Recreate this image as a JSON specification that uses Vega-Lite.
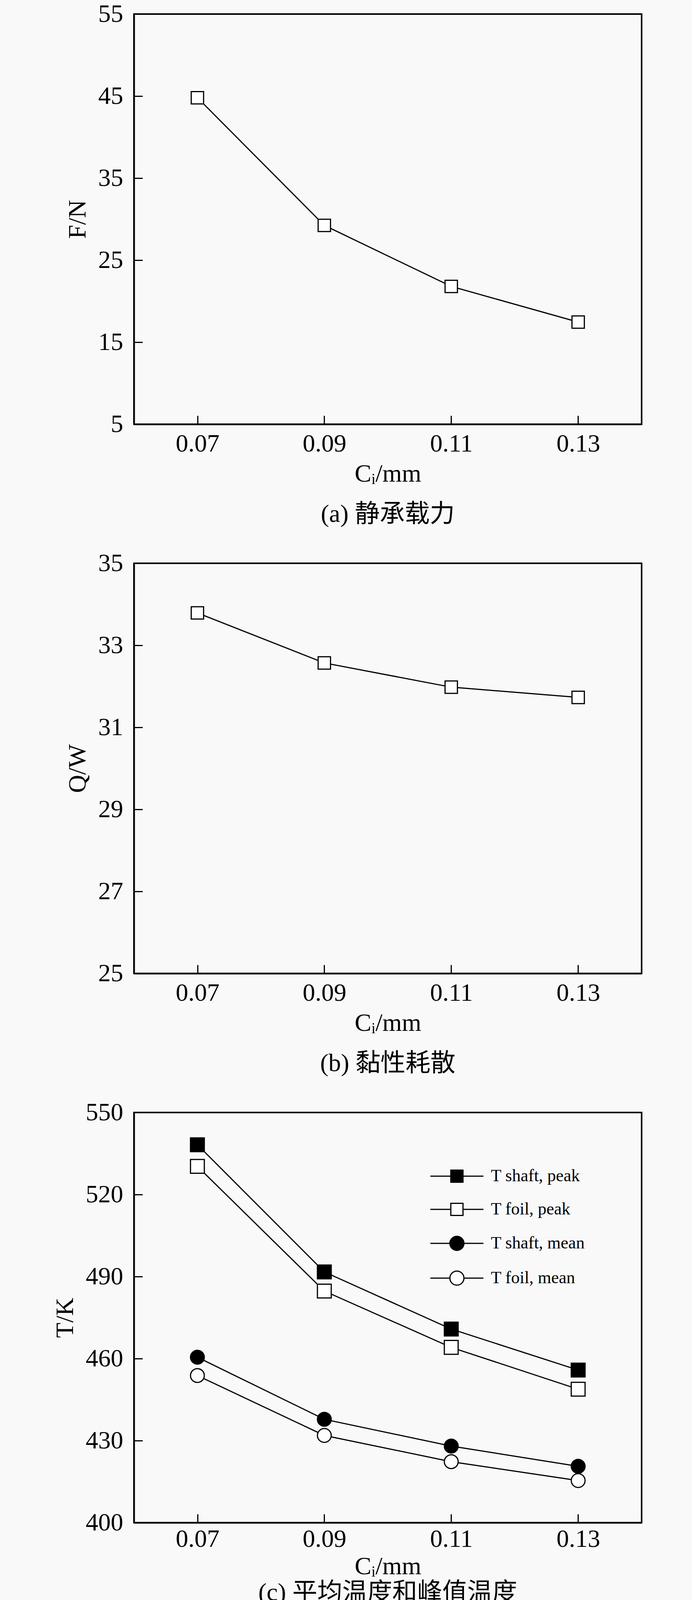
{
  "$schema": "https://vega.github.io/schema/vega-lite/v6.json",
  "background": "#f9f9f9",
  "padding": {"left": 133, "top": 2, "right": 129, "bottom": 30},
  "autosize": {"type": "pad"},
  "config": {
    "font": "Liberation Serif, Noto Sans CJK SC",
    "view": {"stroke": "black", "strokeWidth": 4},
    "axis": {
      "grid": false,
      "domainColor": "black",
      "domainWidth": 4,
      "tickColor": "black",
      "tickWidth": 3,
      "tickSize": -22,
      "labelFont": "Liberation Serif",
      "labelFontSize": 64,
      "labelColor": "black",
      "titleFont": "Liberation Serif",
      "titleFontSize": 64,
      "titleFontWeight": "normal",
      "titleColor": "black"
    },
    "axisX": {"labelPadding": 40, "titlePadding": 13},
    "axisY": {"labelPadding": 50, "titlePadding": 20},
    "title": {
      "font": "Liberation Serif, Noto Sans CJK SC",
      "fontSize": 64,
      "fontWeight": "normal",
      "color": "black",
      "offset": 40,
      "frame": "group",
      "anchor": "middle"
    }
  },
  "spacing": 356,
  "bounds": "flush",
  "vconcat": [
    {
      "width": 1300,
      "height": 1050,
      "title": {"text": "(a) 静承载力", "orient": "bottom"},
      "data": {
        "values": [
          {"c": 0.07, "v": 44.8},
          {"c": 0.09, "v": 29.24},
          {"c": 0.11, "v": 21.8},
          {"c": 0.13, "v": 17.45}
        ]
      },
      "encoding": {
        "x": {
          "field": "c",
          "type": "quantitative",
          "scale": {"domain": [0.06, 0.14], "nice": false},
          "axis": {"values": [0.07, 0.09, 0.11, 0.13], "format": ".2f", "title": "Cᵢ/mm"}
        },
        "y": {
          "field": "v",
          "type": "quantitative",
          "scale": {"domain": [5, 55], "nice": false, "zero": false},
          "axis": {"values": [5, 15, 25, 35, 45, 55], "title": "F/N"}
        }
      },
      "layer": [
        {"mark": {"type": "line", "color": "black", "strokeWidth": 3}, "encoding": {}},
        {"mark": {"type": "point", "shape": "square", "filled": true, "fill": "white", "stroke": "black", "strokeWidth": 3, "size": 1000, "opacity": 1}}
      ]
    },
    {
      "width": 1300,
      "height": 1050,
      "title": {"text": "(b) 黏性耗散", "orient": "bottom"},
      "data": {
        "values": [
          {"c": 0.07, "v": 33.79},
          {"c": 0.09, "v": 32.57},
          {"c": 0.11, "v": 31.98},
          {"c": 0.13, "v": 31.73}
        ]
      },
      "encoding": {
        "x": {
          "field": "c",
          "type": "quantitative",
          "scale": {"domain": [0.06, 0.14], "nice": false},
          "axis": {"values": [0.07, 0.09, 0.11, 0.13], "format": ".2f", "title": "Cᵢ/mm"}
        },
        "y": {
          "field": "v",
          "type": "quantitative",
          "scale": {"domain": [25, 35], "nice": false, "zero": false},
          "axis": {"values": [25, 27, 29, 31, 33, 35], "title": "Q/W"}
        }
      },
      "layer": [
        {"mark": {"type": "line", "color": "black", "strokeWidth": 3}, "encoding": {}},
        {"mark": {"type": "point", "shape": "square", "filled": true, "fill": "white", "stroke": "black", "strokeWidth": 3, "size": 1000, "opacity": 1}}
      ]
    },
    {
      "width": 1300,
      "height": 1050,
      "title": {"text": "(c) 平均温度和峰值温度", "orient": "bottom", "offset": 4},
      "data": {
        "values": [
          {"c": 0.07, "s": "T shaft, peak", "v": 538.2},
          {"c": 0.09, "s": "T shaft, peak", "v": 491.7},
          {"c": 0.11, "s": "T shaft, peak", "v": 470.8},
          {"c": 0.13, "s": "T shaft, peak", "v": 455.8},
          {"c": 0.07, "s": "T foil, peak", "v": 530.3},
          {"c": 0.09, "s": "T foil, peak", "v": 484.7},
          {"c": 0.11, "s": "T foil, peak", "v": 464.1},
          {"c": 0.13, "s": "T foil, peak", "v": 448.8},
          {"c": 0.07, "s": "T shaft, mean", "v": 460.5},
          {"c": 0.09, "s": "T shaft, mean", "v": 437.8},
          {"c": 0.11, "s": "T shaft, mean", "v": 428.0},
          {"c": 0.13, "s": "T shaft, mean", "v": 420.6},
          {"c": 0.07, "s": "T foil, mean", "v": 453.8},
          {"c": 0.09, "s": "T foil, mean", "v": 431.9},
          {"c": 0.11, "s": "T foil, mean", "v": 422.3},
          {"c": 0.13, "s": "T foil, mean", "v": 415.4}
        ]
      },
      "encoding": {
        "x": {
          "field": "c",
          "type": "quantitative",
          "scale": {"domain": [0.06, 0.14], "nice": false},
          "axis": {"values": [0.07, 0.09, 0.11, 0.13], "format": ".2f", "title": "Cᵢ/mm", "labelPadding": 32, "titlePadding": 6}
        },
        "y": {
          "field": "v",
          "type": "quantitative",
          "scale": {"domain": [400, 550], "nice": false, "zero": false},
          "axis": {"values": [400, 430, 460, 490, 520, 550], "title": "T/K"}
        }
      },
      "resolve": {
        "scale": {"shape": "independent", "fill": "independent", "stroke": "independent"},
        "legend": {"shape": "independent", "fill": "independent", "stroke": "independent"}
      },
      "layer": [
        {
          "mark": {"type": "line", "color": "black", "strokeWidth": 3},
          "encoding": {"detail": {"field": "s", "type": "nominal"}}
        },
        {
          "mark": {"type": "point", "filled": true, "stroke": "black", "strokeWidth": 3, "size": 1250, "opacity": 1},
          "encoding": {
            "shape": {
              "field": "s",
              "type": "nominal",
              "scale": {
                "domain": ["T shaft, peak", "T foil, peak", "T shaft, mean", "T foil, mean"],
                "range": ["square", "square", "circle", "circle"]
              },
              "legend": null
            },
            "fill": {
              "field": "s",
              "type": "nominal",
              "scale": {
                "domain": ["T shaft, peak", "T foil, peak", "T shaft, mean", "T foil, mean"],
                "range": ["black", "white", "black", "white"]
              },
              "legend": null
            }
          }
        },
        {
          "mark": {"type": "point", "filled": true, "strokeWidth": 3, "size": 1600, "opacity": 0},
          "encoding": {
            "shape": {
              "field": "s",
              "type": "nominal",
              "scale": {
                "domain": ["T shaft, peak", "T foil, peak", "T shaft, mean", "T foil, mean"],
                "range": [
                  "M-3.4,0H-0.78M0.78,0H3.4M-0.78,-0.78H0.78V0.78H-0.78Z",
                  "M-3.4,0H-0.78M0.78,0H3.4M-0.78,-0.78H0.78V0.78H-0.78Z",
                  "M-3.4,0H-0.9M0.9,0H3.4M-0.9,0A0.9,0.9,0,1,0,0.9,0A0.9,0.9,0,1,0,-0.9,0Z",
                  "M-3.4,0H-0.9M0.9,0H3.4M-0.9,0A0.9,0.9,0,1,0,0.9,0A0.9,0.9,0,1,0,-0.9,0Z"
                ]
              },
              "legend": {
                "title": null,
                "orient": "none",
                "legendX": 805,
                "legendY": 141,
                "padding": 0,
                "symbolSize": 1600,
                "symbolStrokeWidth": 3,
                "symbolOpacity": 1,
                "labelFont": "Liberation Serif",
                "labelFontSize": 44,
                "labelColor": "black",
                "labelLimit": 600,
                "labelOffset": 65,
                "rowPadding": 41
              }
            },
            "fill": {
              "field": "s",
              "type": "nominal",
              "scale": {
                "domain": ["T shaft, peak", "T foil, peak", "T shaft, mean", "T foil, mean"],
                "range": ["black", "white", "black", "white"]
              }
            },
            "stroke": {
              "field": "s",
              "type": "nominal",
              "scale": {
                "domain": ["T shaft, peak", "T foil, peak", "T shaft, mean", "T foil, mean"],
                "range": ["black", "black", "black", "black"]
              }
            }
          }
        }
      ]
    }
  ]
}
